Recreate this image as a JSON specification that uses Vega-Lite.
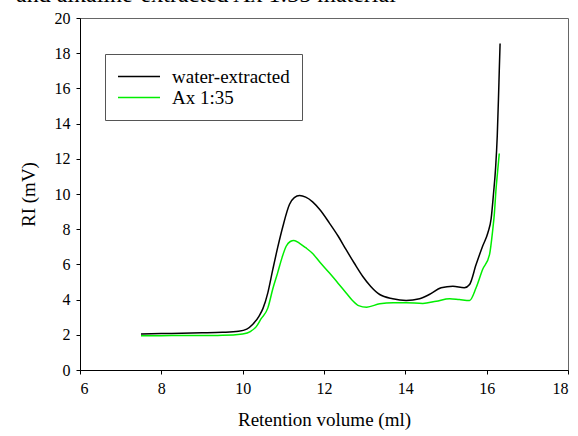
{
  "$schema": "https://vega.github.io/schema/vega-lite/v6.json",
  "width": 488,
  "height": 352,
  "autosize": {"type": "none"},
  "padding": {"left": 80, "top": 18, "right": 10, "bottom": 66},
  "background": "white",
  "title": {
    "text": "and alkaline-extracted Ax 1:35 material",
    "anchor": "start",
    "frame": "bounds",
    "font": "Times New Roman, Liberation Serif, serif",
    "fontSize": 24,
    "fontWeight": "normal",
    "color": "black",
    "baseline": "alphabetic",
    "offset": 12,
    "dy": 28,
    "dx": -3
  },
  "config": {
    "font": "Times New Roman, Liberation Serif, serif",
    "view": {"stroke": "#666666", "strokeWidth": 1},
    "axis": {
      "labelFont": "Times New Roman, Liberation Serif, serif",
      "titleFont": "Times New Roman, Liberation Serif, serif",
      "labelFontSize": 16,
      "titleFontSize": 19,
      "titleFontWeight": "normal",
      "labelColor": "black",
      "titleColor": "black",
      "domainColor": "black",
      "tickColor": "black",
      "tickSize": 4,
      "grid": false
    },
    "legend": {
      "labelFont": "Times New Roman, Liberation Serif, serif",
      "labelFontSize": 19
    }
  },
  "data": {
    "values": [
      {"v": 7.5, "ri": 2.05, "s": "water-extracted"},
      {"v": 8.0, "ri": 2.07, "s": "water-extracted"},
      {"v": 8.5, "ri": 2.09, "s": "water-extracted"},
      {"v": 9.0, "ri": 2.11, "s": "water-extracted"},
      {"v": 9.5, "ri": 2.14, "s": "water-extracted"},
      {"v": 9.9, "ri": 2.2, "s": "water-extracted"},
      {"v": 10.1, "ri": 2.32, "s": "water-extracted"},
      {"v": 10.25, "ri": 2.6, "s": "water-extracted"},
      {"v": 10.4, "ri": 3.05, "s": "water-extracted"},
      {"v": 10.5, "ri": 3.5, "s": "water-extracted"},
      {"v": 10.62, "ri": 4.4, "s": "water-extracted"},
      {"v": 10.74, "ri": 5.7, "s": "water-extracted"},
      {"v": 10.86, "ri": 6.95, "s": "water-extracted"},
      {"v": 10.99, "ri": 8.17, "s": "water-extracted"},
      {"v": 11.15, "ri": 9.4, "s": "water-extracted"},
      {"v": 11.27, "ri": 9.8, "s": "water-extracted"},
      {"v": 11.4, "ri": 9.91, "s": "water-extracted"},
      {"v": 11.55, "ri": 9.82, "s": "water-extracted"},
      {"v": 11.72, "ri": 9.55, "s": "water-extracted"},
      {"v": 11.9, "ri": 9.1, "s": "water-extracted"},
      {"v": 12.13, "ri": 8.36, "s": "water-extracted"},
      {"v": 12.35, "ri": 7.6, "s": "water-extracted"},
      {"v": 12.54, "ri": 6.85, "s": "water-extracted"},
      {"v": 12.75, "ri": 6.05, "s": "water-extracted"},
      {"v": 12.95, "ri": 5.33, "s": "water-extracted"},
      {"v": 13.15, "ri": 4.75, "s": "water-extracted"},
      {"v": 13.37, "ri": 4.29, "s": "water-extracted"},
      {"v": 13.69, "ri": 4.05, "s": "water-extracted"},
      {"v": 14.02, "ri": 3.95, "s": "water-extracted"},
      {"v": 14.35, "ri": 4.05, "s": "water-extracted"},
      {"v": 14.59, "ri": 4.29, "s": "water-extracted"},
      {"v": 14.88, "ri": 4.67, "s": "water-extracted"},
      {"v": 15.17, "ri": 4.76, "s": "water-extracted"},
      {"v": 15.45, "ri": 4.67, "s": "water-extracted"},
      {"v": 15.58, "ri": 4.86, "s": "water-extracted"},
      {"v": 15.74, "ri": 5.99, "s": "water-extracted"},
      {"v": 15.9, "ri": 7.03, "s": "water-extracted"},
      {"v": 16.03, "ri": 7.8, "s": "water-extracted"},
      {"v": 16.11, "ri": 8.6, "s": "water-extracted"},
      {"v": 16.17, "ri": 10.07, "s": "water-extracted"},
      {"v": 16.22, "ri": 11.5, "s": "water-extracted"},
      {"v": 16.26, "ri": 13.28, "s": "water-extracted"},
      {"v": 16.29, "ri": 15.4, "s": "water-extracted"},
      {"v": 16.31, "ri": 17.0, "s": "water-extracted"},
      {"v": 16.33, "ri": 18.55, "s": "water-extracted"},
      {"v": 7.5, "ri": 1.95, "s": "Ax 1:35"},
      {"v": 8.0, "ri": 1.95, "s": "Ax 1:35"},
      {"v": 8.5, "ri": 1.96, "s": "Ax 1:35"},
      {"v": 9.0, "ri": 1.96, "s": "Ax 1:35"},
      {"v": 9.5, "ri": 1.97, "s": "Ax 1:35"},
      {"v": 10.0, "ri": 2.05, "s": "Ax 1:35"},
      {"v": 10.2, "ri": 2.2, "s": "Ax 1:35"},
      {"v": 10.33, "ri": 2.45, "s": "Ax 1:35"},
      {"v": 10.45, "ri": 2.9, "s": "Ax 1:35"},
      {"v": 10.62, "ri": 3.53, "s": "Ax 1:35"},
      {"v": 10.74, "ri": 4.6, "s": "Ax 1:35"},
      {"v": 10.86, "ri": 5.52, "s": "Ax 1:35"},
      {"v": 10.97, "ri": 6.4, "s": "Ax 1:35"},
      {"v": 11.07, "ri": 7.03, "s": "Ax 1:35"},
      {"v": 11.17, "ri": 7.3, "s": "Ax 1:35"},
      {"v": 11.26, "ri": 7.36, "s": "Ax 1:35"},
      {"v": 11.4, "ri": 7.2, "s": "Ax 1:35"},
      {"v": 11.55, "ri": 6.95, "s": "Ax 1:35"},
      {"v": 11.72, "ri": 6.62, "s": "Ax 1:35"},
      {"v": 11.9, "ri": 6.12, "s": "Ax 1:35"},
      {"v": 12.13, "ri": 5.52, "s": "Ax 1:35"},
      {"v": 12.35, "ri": 4.92, "s": "Ax 1:35"},
      {"v": 12.54, "ri": 4.39, "s": "Ax 1:35"},
      {"v": 12.7, "ri": 3.95, "s": "Ax 1:35"},
      {"v": 12.85, "ri": 3.66, "s": "Ax 1:35"},
      {"v": 13.05, "ri": 3.57, "s": "Ax 1:35"},
      {"v": 13.37, "ri": 3.76, "s": "Ax 1:35"},
      {"v": 13.7, "ri": 3.82, "s": "Ax 1:35"},
      {"v": 14.02, "ri": 3.82, "s": "Ax 1:35"},
      {"v": 14.43, "ri": 3.78, "s": "Ax 1:35"},
      {"v": 14.76, "ri": 3.91, "s": "Ax 1:35"},
      {"v": 15.09, "ri": 4.05, "s": "Ax 1:35"},
      {"v": 15.33, "ri": 4.0, "s": "Ax 1:35"},
      {"v": 15.58, "ri": 3.95, "s": "Ax 1:35"},
      {"v": 15.74, "ri": 4.67, "s": "Ax 1:35"},
      {"v": 15.9, "ri": 5.71, "s": "Ax 1:35"},
      {"v": 16.07, "ri": 6.56, "s": "Ax 1:35"},
      {"v": 16.15, "ri": 7.98, "s": "Ax 1:35"},
      {"v": 16.19, "ri": 8.9, "s": "Ax 1:35"},
      {"v": 16.23, "ri": 10.26, "s": "Ax 1:35"},
      {"v": 16.27, "ri": 11.3, "s": "Ax 1:35"},
      {"v": 16.31, "ri": 12.3, "s": "Ax 1:35"}
    ]
  },
  "mark": {"type": "line", "strokeWidth": 1.5, "interpolate": "monotone"},
  "encoding": {
    "x": {
      "field": "v",
      "type": "quantitative",
      "scale": {"domain": [6, 18], "nice": false},
      "axis": {
        "title": "Retention volume (ml)",
        "values": [6, 8, 10, 12, 14, 16, 18],
        "labelPadding": 6,
        "titlePadding": 14
      }
    },
    "y": {
      "field": "ri",
      "type": "quantitative",
      "scale": {"domain": [0, 20], "nice": false},
      "axis": {
        "title": "RI (mV)",
        "values": [0, 2, 4, 6, 8, 10, 12, 14, 16, 18, 20],
        "labelPadding": 6,
        "titlePadding": 16
      }
    },
    "color": {
      "field": "s",
      "type": "nominal",
      "scale": {"domain": ["water-extracted", "Ax 1:35"], "range": ["#000000", "#00ee00"]},
      "legend": {
        "title": null,
        "orient": "none",
        "legendX": 25,
        "legendY": 36,
        "padding": 12,
        "strokeColor": "#555555",
        "fillColor": "white",
        "symbolType": "stroke",
        "symbolSize": 1764,
        "symbolStrokeWidth": 1.5,
        "clipHeight": 21,
        "rowPadding": 0,
        "labelOffset": 11,
        "labelColor": "black"
      }
    },
    "order": {"field": "v", "type": "quantitative"}
  }
}
